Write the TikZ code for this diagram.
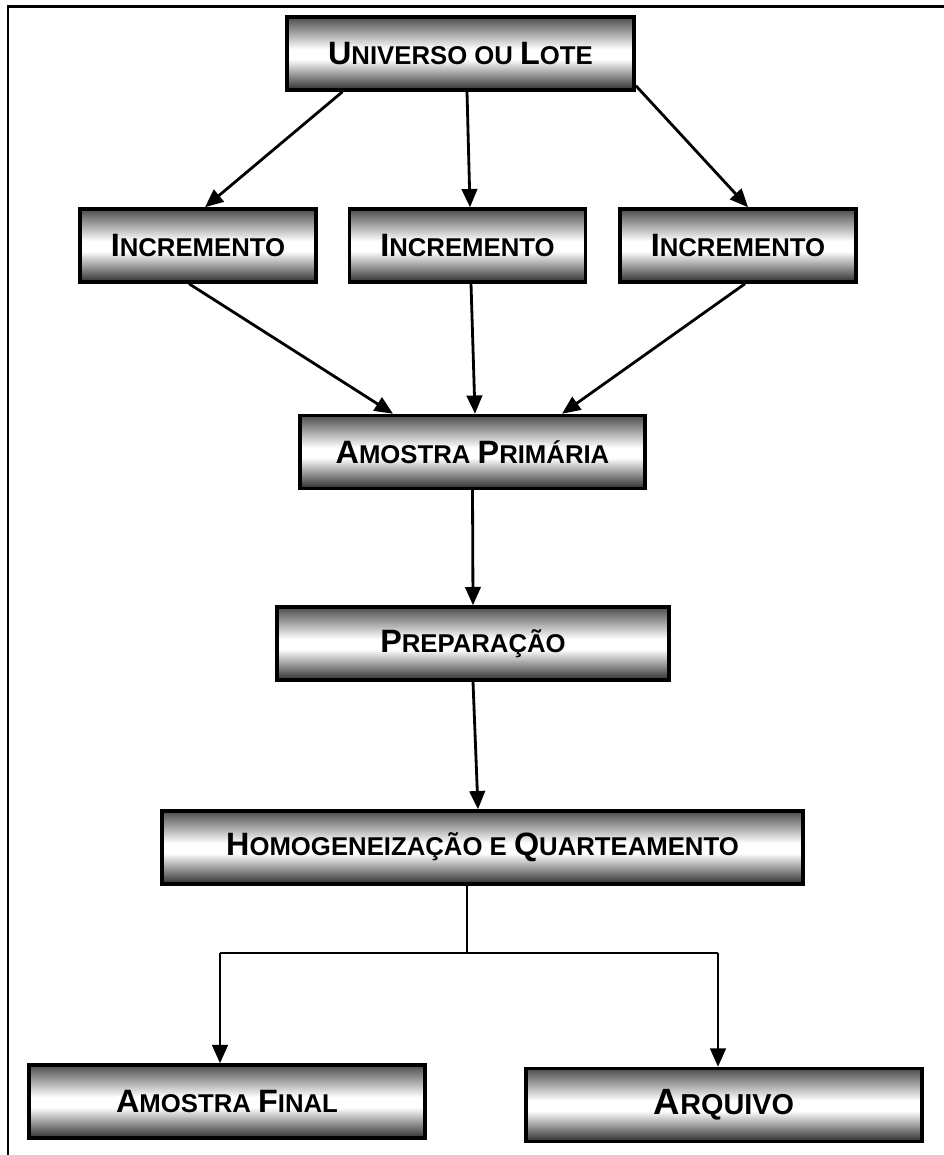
\documentclass[tikz,border=0pt]{standalone}
\usepackage{fontspec}
\setmainfont{Liberation Sans}
\usetikzlibrary{arrows.meta}

\pgfdeclareverticalshading{caixa}{100bp}{color(0bp)=(black!82); color(25bp)=(black!82); color(46bp)=(white); color(53bp)=(white); color(75bp)=(black!70); color(100bp)=(black!70)}

\newcommand{\vers}[2]{{\fontsize{23}{26}\selectfont #1}{\fontsize{18.3}{21}\selectfont #2}}
\newcommand{\versg}[2]{{\fontsize{26}{29}\selectfont #1}{\fontsize{20.5}{23}\selectfont #2}}

\begin{document}
\begin{tikzpicture}[x=0.025cm, y=-0.025cm,
	caixa/.style={draw, line width=2.6pt, shade, shading=caixa, inner sep=0pt, font=\bfseries, minimum height=1.82cm},
	seta/.style={line width=2pt, -{Triangle[length=13pt,width=11pt]}},
	fio/.style={line width=0.8pt}]

	\useasboundingbox (0,0) rectangle (944,1155);
	\draw[line width=1.8pt] (8,1155) -- (8,6.5) -- (944,6.5);

	\node (univ) at (460.5,53.5) [caixa, minimum width=8.675cm] {\vers{U}{NIVERSO OU }\vers{L}{OTE}};
	\node (inc1) at (198,245.5) [caixa, minimum width=5.9cm] {\vers{I}{NCREMENTO}};
	\node (inc2) at (467.5,245.5) [caixa, minimum width=5.9cm] {\vers{I}{NCREMENTO}};
	\node (inc3) at (738,245.5) [caixa, minimum width=5.9cm] {\vers{I}{NCREMENTO}};
	\node (prim) at (472.5,452) [caixa, minimum width=8.625cm] {\vers{A}{MOSTRA }\vers{P}{RIMÁRIA}};
	\node (prep) at (473,643.5) [caixa, minimum width=9.8cm] {\vers{P}{REPARAÇÃO}};
	\node (homo) at (482.5,847.5) [caixa, minimum width=16.025cm] {\vers{H}{OMOGENEIZAÇÃO E }\vers{Q}{UARTEAMENTO}};
	\node (final) at (227,1101.5) [caixa, minimum width=9.9cm] {\vers{A}{MOSTRA }\vers{F}{INAL}};
	\node (arq) at (724,1105) [caixa, minimum width=9.9cm] {\versg{A}{RQUIVO}};

	\draw[seta] ([xshift=-118*0.025cm]univ.south) -- ([xshift=7*0.025cm]inc1.north);
	\draw[seta] ([xshift=6.5*0.025cm]univ.south) -- ([xshift=2.5*0.025cm]inc2.north);
	\draw[seta] ([yshift=0.15cm]univ.south east) -- ([xshift=10*0.025cm]inc3.north);

	\draw[seta] ([xshift=-9*0.025cm]inc1.south) -- ([xshift=-79.5*0.025cm]prim.north);
	\draw[seta] ([xshift=3.5*0.025cm]inc2.south) -- ([xshift=2.5*0.025cm]prim.north);
	\draw[seta] ([xshift=7*0.025cm]inc3.south) -- ([xshift=89.5*0.025cm]prim.north);

	\draw[seta] (prim.south) -- (prep.north);
	\draw[seta] (prep.south) -- ([xshift=-4.5*0.025cm]homo.north);

	\coordinate (split) at (467,953);
	\coordinate (sl) at (220,953);
	\coordinate (sr) at (718,953);
	\draw[fio] ([xshift=-15.5*0.025cm]homo.south) -- (split);
	\draw[fio] (sl) -- (sr);
	\draw[seta] (sl) -- ([xshift=-7*0.025cm]final.north);
	\draw[seta] (sr) -- ([xshift=-6*0.025cm]arq.north);
\end{tikzpicture}
\end{document}
